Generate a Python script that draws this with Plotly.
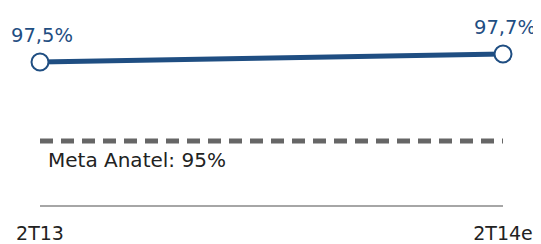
import plotly.graph_objects as go

categories = ["2T13", "2T14e"]
values = [97.5, 97.7]
value_labels = ["97,5%", "97,7%"]
target = [95, 95]
target_label = "Meta Anatel: 95%"

BLUE = "#1F4E82"
FONT = "DejaVu Sans"

fig = go.Figure()
fig.add_trace(go.Scatter(
    x=categories, y=target, yaxis="y2", mode="lines",
    line=dict(color="#666666", width=5, dash="13px,8px"),
    hoverinfo="skip", showlegend=False,
))
fig.add_trace(go.Scatter(
    x=categories, y=values, mode="lines+markers",
    line=dict(color=BLUE, width=5),
    marker=dict(size=17, color="white", line=dict(color=BLUE, width=2)),
    cliponaxis=False, showlegend=False,
))
for c, v, t in zip(categories, values, value_labels):
    fig.add_annotation(x=c, y=v, text=t, showarrow=False, yanchor="bottom",
                       yshift=13, xshift=2,
                       font=dict(family=FONT, size=19.5, color=BLUE))
fig.add_annotation(
    x=categories[0], y=target[0], yref="y2", text=target_label,
    showarrow=False, xanchor="left", yanchor="top", xshift=6, yshift=-5,
    font=dict(family=FONT, size=20, color="#222222"),
)
fig.update_layout(
    width=533, height=236,
    margin=dict(l=32, r=38, t=12, b=39, autoexpand=False),
    paper_bgcolor="white", plot_bgcolor="white",
    xaxis=dict(type="category", range=[0, 1], showgrid=False, zeroline=False,
               automargin=False,
               showline=True, linecolor="#A6A6A6", linewidth=1.5, ticks="",
               ticklabelstandoff=10,
               tickfont=dict(family=FONT, size=19, color="#222222")),
    yaxis=dict(range=[93.925, 98.55], visible=False, showgrid=False, automargin=False),
    yaxis2=dict(range=[93.4, 98.025], overlaying="y", visible=False, showgrid=False,
                automargin=False),
)
fig.write_html("out.html")
